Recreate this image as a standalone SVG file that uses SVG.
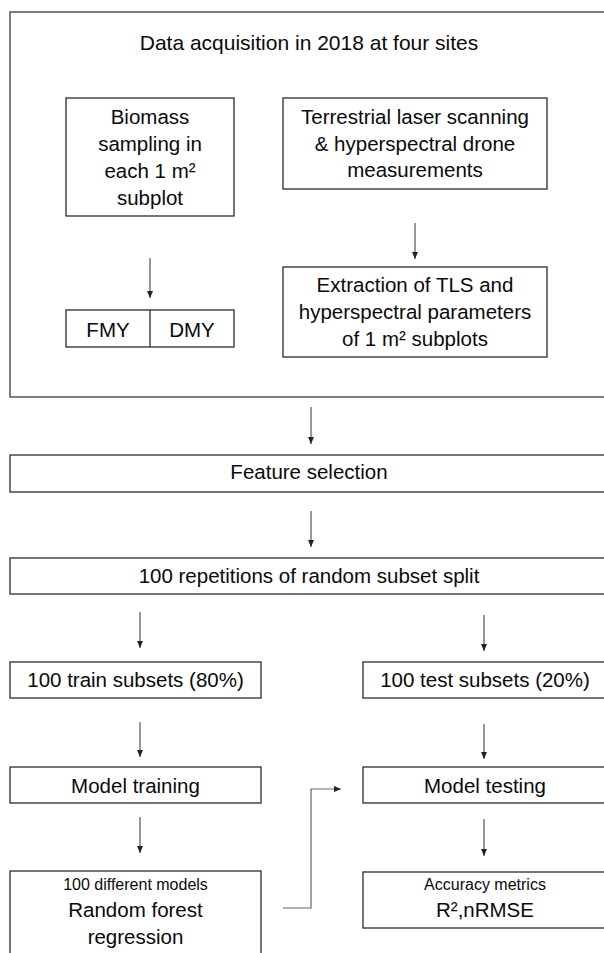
<svg xmlns="http://www.w3.org/2000/svg" width="604" height="953" viewBox="0 0 604 953">
  <defs>
    <style>
      .box { fill: #ffffff; stroke: #2b2b2b; stroke-width: 1.3; }
      .outer { fill: #ffffff; stroke: #555555; stroke-width: 1.5; }
      .t { font-family: "Liberation Sans", Arial, sans-serif; font-size: 20.5px; fill: #0a0a0a; text-anchor: middle; }
      .s { font-family: "Liberation Sans", Arial, sans-serif; font-size: 16px; fill: #0a0a0a; text-anchor: middle; }
      .conn { fill: none; stroke: #333333; stroke-width: 1; }
      .elbow { fill: none; stroke: #666666; stroke-width: 1.2; }
    </style>
    <marker id="arr" markerWidth="8" markerHeight="8" refX="7" refY="4" orient="auto" markerUnits="userSpaceOnUse">
      <path d="M0,1 L7,4 L0,7 Z" fill="#222222"/>
    </marker>
  </defs>
  <rect width="604" height="953" fill="#ffffff"/>

  <g id="acquisition">
    <rect class="outer" x="10" y="12" width="600" height="385"/>
    <text class="t" x="309" y="50" style="font-size:21px">Data acquisition in 2018 at four sites</text>
  </g>

  <g id="biomass">
    <rect class="box" x="66" y="98" width="168" height="118"/>
    <text class="t" x="150" y="124">Biomass</text>
    <text class="t" x="150" y="151">sampling in</text>
    <text class="t" x="150" y="178">each 1 m²</text>
    <text class="t" x="150" y="205">subplot</text>
  </g>

  <g id="tls">
    <rect class="box" x="283" y="98" width="264" height="91"/>
    <text class="t" x="415" y="124">Terrestrial laser scanning</text>
    <text class="t" x="415" y="151">&amp; hyperspectral drone</text>
    <text class="t" x="415" y="177">measurements</text>
  </g>

  <g id="fmy-dmy">
    <rect class="box" x="66" y="310" width="168" height="37"/>
    <line class="box" x1="150" y1="310" x2="150" y2="347"/>
    <text class="t" x="108" y="337">FMY</text>
    <text class="t" x="192" y="337">DMY</text>
  </g>

  <g id="extraction">
    <rect class="box" x="283" y="267" width="264" height="90"/>
    <text class="t" x="415" y="292">Extraction of TLS and</text>
    <text class="t" x="415" y="319">hyperspectral parameters</text>
    <text class="t" x="415" y="346">of 1 m² subplots</text>
  </g>

  <g id="feature-selection">
    <rect class="box" x="10" y="455" width="600" height="37"/>
    <text class="t" x="309" y="479">Feature selection</text>
  </g>

  <g id="split">
    <rect class="box" x="10" y="558" width="600" height="36"/>
    <text class="t" x="309" y="583">100 repetitions of random subset split</text>
  </g>

  <g id="train-subsets">
    <rect class="box" x="10" y="662" width="251" height="36"/>
    <text class="t" x="135.5" y="687">100 train subsets (80%)</text>
  </g>

  <g id="test-subsets">
    <rect class="box" x="363" y="662" width="247" height="36"/>
    <text class="t" x="485" y="687">100 test subsets (20%)</text>
  </g>

  <g id="model-training">
    <rect class="box" x="10" y="767" width="251" height="36"/>
    <text class="t" x="135.5" y="793">Model training</text>
  </g>

  <g id="model-testing">
    <rect class="box" x="363" y="767" width="247" height="36"/>
    <text class="t" x="485" y="793">Model testing</text>
  </g>

  <g id="random-forest">
    <rect class="box" x="10" y="871" width="251" height="100"/>
    <text class="s" x="135.5" y="890">100 different models</text>
    <text class="t" x="135.5" y="917">Random forest</text>
    <text class="t" x="135.5" y="944">regression</text>
  </g>

  <g id="accuracy">
    <rect class="box" x="363" y="872" width="247" height="56"/>
    <text class="s" x="485" y="890">Accuracy metrics</text>
    <text class="t" x="485" y="917">R²,nRMSE</text>
  </g>

  <g id="connectors">
    <line class="conn" x1="150" y1="258" x2="150" y2="298" marker-end="url(#arr)"/>
    <line class="conn" x1="415" y1="223" x2="415" y2="259" marker-end="url(#arr)"/>
    <line class="conn" x1="311" y1="407" x2="311" y2="444" marker-end="url(#arr)"/>
    <line class="conn" x1="311" y1="511" x2="311" y2="547" marker-end="url(#arr)"/>
    <line class="conn" x1="140" y1="612" x2="140" y2="648" marker-end="url(#arr)"/>
    <line class="conn" x1="484" y1="615" x2="484" y2="651" marker-end="url(#arr)"/>
    <line class="conn" x1="140" y1="722" x2="140" y2="757" marker-end="url(#arr)"/>
    <line class="conn" x1="484" y1="724" x2="484" y2="759" marker-end="url(#arr)"/>
    <line class="conn" x1="140" y1="817" x2="140" y2="853" marker-end="url(#arr)"/>
    <line class="conn" x1="484" y1="819" x2="484" y2="856" marker-end="url(#arr)"/>
    <path class="elbow" d="M283,908 L311,908 L311,789 L341,789" marker-end="url(#arr)"/>
  </g>
</svg>
